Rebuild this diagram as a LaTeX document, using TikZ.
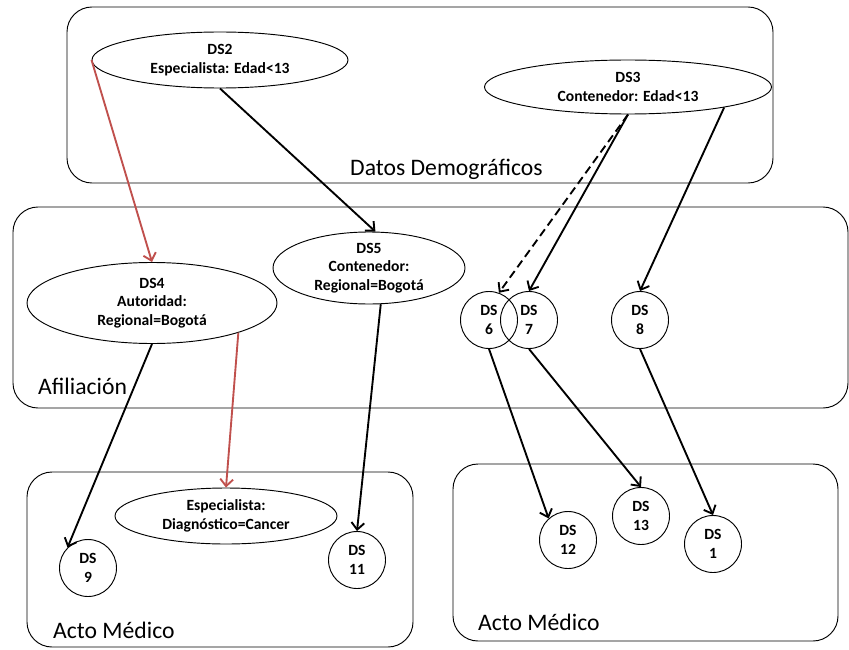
\documentclass[tikz,border=0pt]{standalone}
\usepackage{fontspec}
\setmainfont{Carlito}
\usetikzlibrary{arrows.meta,shapes.geometric}

\definecolor{linkred}{RGB}{192,80,77}

\tikzset{
  ds/.style={draw, line width=0.8pt, align=center, inner sep=0pt,
    font=\fontsize{13.3}{16}\selectfont\bfseries},
  dsell/.style={ds, ellipse},
  dscirc/.style={ds, circle, minimum size=1.71cm},
  area/.style={draw, line width=0.8pt, rounded corners=0.75cm},
  arealabel/.style={anchor=base west, inner sep=0pt,
    font=\fontsize{20.2}{22}\selectfont},
  link/.style={line width=1.6pt, -{Straight Barb[length=6pt,width=11pt]}},
}

\begin{document}
\begin{tikzpicture}[x=0.03cm, y=-0.03cm]
    \useasboundingbox (0,0) rectangle (849,649);

    % Areas
    \draw[area] (67,7) rectangle (773,183);
    \draw[area] (13,207) rectangle (848,408);
    \draw[area] (27,472) rectangle (413,647);
    \draw[area] (453,464) rectangle (838,641);
    \node[arealabel] (lblDemo) at (350,175) {Datos Demográficos};
    \node[arealabel] (lblAfil) at (38,394) {Afiliación};
    \node[arealabel] (lblActoA) at (53,638) {Acto Médico};
    \node[arealabel] (lblActoB) at (478,630) {Acto Médico};

    % Datos demograficos
    \node[dsell, minimum width=7.68cm, minimum height=1.68cm] (ds2) at (220,60) {DS2\\Especialista: Edad<13};
    \node[dsell, minimum width=8.61cm, minimum height=1.62cm] (ds3) at (628,87) {DS3\\Contenedor: Edad<13};

    % Afiliacion
    \node[dsell, minimum width=7.5cm, minimum height=2.43cm] (ds4) at (152,303) {DS4\\Autoridad:\\Regional=Bogotá};
    \node[dsell, minimum width=5.76cm, minimum height=2.16cm] (ds5) at (369,268) {DS5\\Contenedor:\\Regional=Bogotá};
    \node[dscirc] (ds6) at (489,320) {DS\\6};
    \node[dscirc] (ds7) at (529,320) {DS\\7};
    \node[dscirc] (ds8) at (640,320) {DS\\8};

    % Acto medico
    \node[dsell, minimum width=6.66cm, minimum height=1.68cm] (esp) at (226,516) {Especialista:\\Diagnóstico=Cancer};
    \node[dscirc] (ds9) at (88,568) {DS\\9};
    \node[dscirc] (ds11) at (357,560) {DS\\11};
    \node[dscirc] (ds12) at (568,540) {DS\\12};
    \node[dscirc] (ds13) at (641,516) {DS\\13};
    \node[dscirc] (ds1) at (713,544) {DS\\1};

    % Links
    \draw[link, linkred] (ds2.west) -- (ds4.north);
    \draw[link] (ds2.south) -- (ds5.80);
    \draw[link, dash pattern=on 7pt off 4pt] (ds3.south) -- (ds6.70);
    \draw[link] (ds3.south) -- (ds7.north);
    \draw[link] (ds3.-12) -- (ds8.north);
    \draw[link] (ds4.south) -- (ds9.135);
    \draw[link, linkred] (ds4.-19) -- (esp.north);
    \draw[link] (ds5.-72) -- (ds11.north);
    \draw[link] (ds6.south) -- (ds12.132);
    \draw[link] (ds7.south) -- (ds13.north);
    \draw[link] (ds8.south) -- (ds1.north);
\end{tikzpicture}
\end{document}
